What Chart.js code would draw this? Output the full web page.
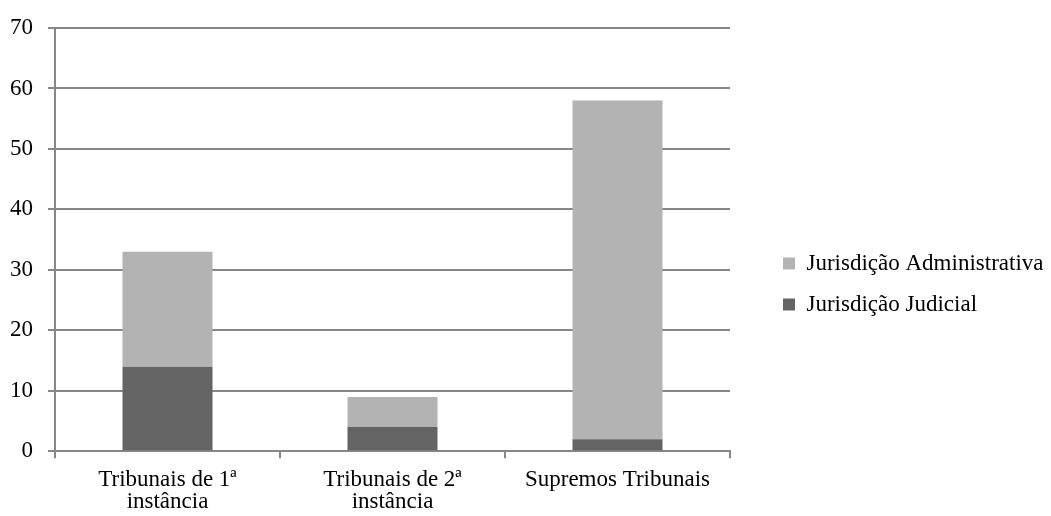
<!DOCTYPE html>
<html>
<head>
<meta charset="utf-8">
<script src="https://cdn.jsdelivr.net/npm/chart.js@4"></script>
<style>
  html, body { margin: 0; padding: 0; background: #fff; }
  #wrap { width: 1051px; height: 516px; }
</style>
</head>
<body>
<div id="wrap"><canvas id="chart"></canvas></div>
<script>
const categories = [['Tribunais de 1ª', 'instância'], ['Tribunais de 2ª', 'instância'], 'Supremos Tribunais'];
const judicial = [14, 4, 2];
const administrativa = [19, 5, 56];

const gridColor = '#878787';
const font = { family: '"Liberation Serif", "Times New Roman", serif', size: 23, lineHeight: 0.95 };

// legend sits to the right of the plot, a bit away from it and lower than centre
const legendPlacement = {
	id: 'legendPlacement',
	beforeLayout(chart) {
		const legend = chart.legend;
		if (legend && !legend._wrapped) {
			const fit = legend.fit;
			legend.fit = function () {
				fit.call(this);
				this.width = 321;
			};
			legend._wrapped = true;
		}
	},
	afterLayout(chart) {
		const legend = chart.legend;
		if (!legend) return;
		const h = legend.bottom - legend.top;
		legend.left = 765;
		legend.right = 1051;
		legend.top = 234;
		legend.bottom = legend.top + h;
	},
};

const config = {
	type: 'bar',
	data: {
		labels: categories,
		datasets: [
			{
				label: 'Jurisdição Judicial',
				data: judicial,
				backgroundColor: '#646464',
				categoryPercentage: 1,
				barPercentage: 0.4,
			},
			{
				label: 'Jurisdição Administrativa',
				data: administrativa,
				backgroundColor: '#b3b3b3',
				categoryPercentage: 1,
				barPercentage: 0.4,
			},
		],
	},
	options: {
		responsive: true,
		maintainAspectRatio: false,
		animation: false,
		layout: { padding: { top: 28, left: -5, right: 0, bottom: -8 } },
		plugins: {
			tooltip: { enabled: false },
			legend: {
				position: 'right',
				align: 'start',
				reverse: true,
				labels: {
					font: { family: font.family, size: 23 },
					color: '#000',
					boxWidth: 12,
					boxHeight: 12,
					padding: 18,
				},
			},
		},
		scales: {
			x: {
				stacked: true,
				offset: true,
				grid: {
					offset: true,
					drawOnChartArea: false,
					color: gridColor,
					lineWidth: 2,
					tickLength: 7,
				},
				border: { color: gridColor, width: 2 },
				ticks: { font: font, color: '#000', maxRotation: 0, padding: 11 },
			},
			y: {
				stacked: true,
				min: 0,
				max: 70,
				ticks: { stepSize: 10, font: font, color: '#000', padding: 15 },
				grid: { color: gridColor, lineWidth: 2, tickLength: 7 },
				border: { color: gridColor, width: 2 },
			},
		},
	},
	plugins: [legendPlacement],
};

function renderChart() {
	const chartCanvas = document.getElementById('chart');
	new Chart(chartCanvas, config);
}

renderChart();
</script>
</body>
</html>
